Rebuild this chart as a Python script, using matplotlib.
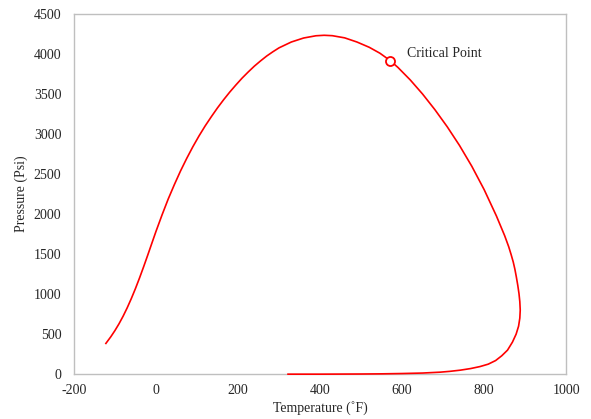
import matplotlib.pyplot as plt

plt.rcParams['font.family'] = ['Liberation Serif', 'DejaVu Serif']
plt.rcParams['axes.unicode_minus'] = False

# phase envelope (deg F, psi)
temp = [-122, -110, -100, -90, -80, -70, -60, -50, -40, -30, -20, -10, 0,
        15, 30, 45, 60, 75, 90, 105, 120, 135, 150, 165, 180, 195, 210, 225,
        240, 255, 270, 285, 300, 330, 360, 390, 410, 430, 460, 490, 520, 546,
        571, 590, 620, 650, 680, 710, 740, 770, 800, 830, 850, 860, 866, 871,
        875, 878.5, 882, 885, 887, 888, 887, 884, 878, 869, 857, 843, 828, 810,
        790, 767, 742, 716, 693, 650, 600, 550, 500, 450, 400, 322]
pres = [384, 467, 544, 629, 724, 829, 944, 1068, 1201, 1341, 1486, 1634, 1781,
        1990, 2188, 2368, 2538, 2694, 2840, 2975, 3100, 3215, 3325, 3427, 3523,
        3612, 3697, 3774, 3847, 3912, 3973, 4026, 4075, 4148, 4198, 4226, 4232,
        4227, 4200, 4148, 4082, 4008, 3916, 3830, 3674, 3498, 3303, 3090, 2856,
        2596, 2305, 1975, 1730, 1590, 1490, 1400, 1310, 1215, 1110, 1005, 905,
        800, 700, 600, 500, 400, 300, 230, 170, 125, 95, 70, 50, 35, 25, 14, 8,
        4, 2, 1, 0, 0]

crit_t, crit_p = 571, 3916

fig = plt.figure(figsize=(5.91, 4.19), dpi=100)
ax = fig.add_axes([0.125, 0.107, 0.833, 0.86])

ax.plot(temp, pres, color='#ff0000', lw=1.2, zorder=3, clip_on=False)
ax.plot([crit_t], [crit_p], 'o', ms=6.5, mfc='white', mec='#ff0000', mew=1.3, zorder=4)
ax.text(612, 4000, 'Critical Point', fontsize=10, va='center', ha='left', color='#262626')

ax.set_xlim(-200, 1000)
ax.set_ylim(0, 4500)
ax.set_xticks(range(-200, 1001, 200))
ax.set_yticks(range(0, 4501, 500))
ax.tick_params(length=0, labelsize=10, colors='#262626')
ax.tick_params(axis='y', pad=9)
ax.tick_params(axis='x', pad=7)
for s in ax.spines.values():
    s.set_color('#bfbfbf')
    s.set_linewidth(1.0)

ax.set_xlabel('Temperature (˚F)', fontsize=10, color='#262626', labelpad=3)
ax.set_ylabel('Pressure (Psi)', fontsize=10, color='#262626', labelpad=4)

plt.savefig('out.png', dpi=100)
